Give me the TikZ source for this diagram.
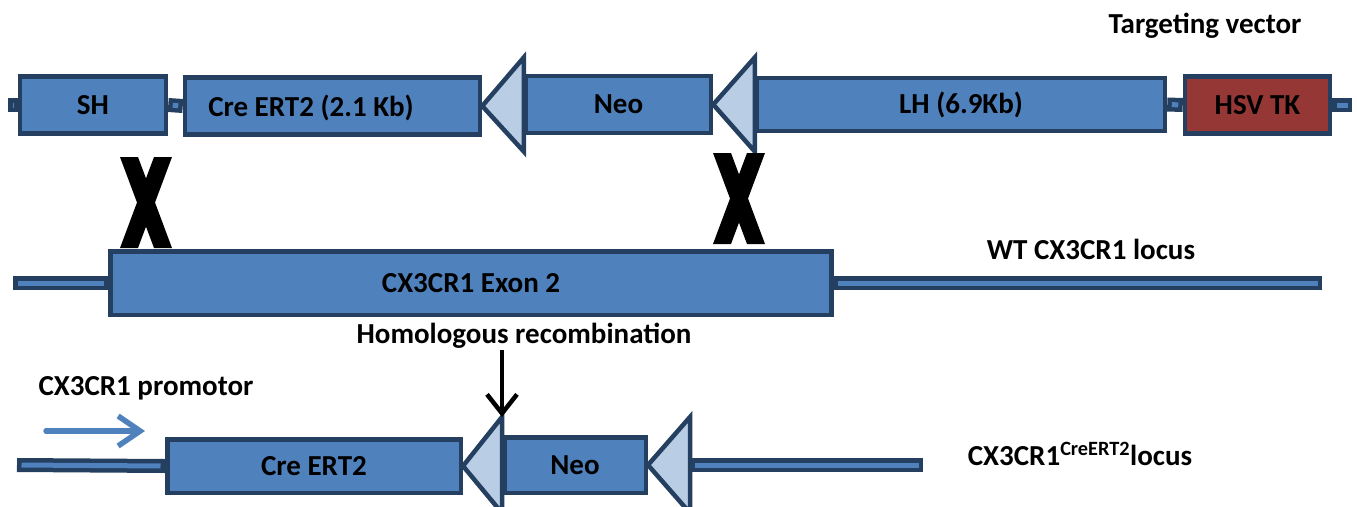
\documentclass[tikz,border=0pt]{standalone}
\usepackage{fontspec}
\setmainfont{Carlito}
\usepackage{xcolor}
\definecolor{exonBlue}{HTML}{4F81BD}
\definecolor{edgeBlue}{HTML}{243F60}
\definecolor{loxBlue}{HTML}{B9CDE5}
\definecolor{tkRed}{HTML}{953735}
\usepackage{tikz}
\usetikzlibrary{arrows.meta, calc}

\begin{document}
\begin{tikzpicture}[x=1pt, y=-1pt,
  every node/.style={font=\fontsize{29}{33}\selectfont\bfseries, inner sep=0pt, text height=18pt, text depth=0pt},
  gene/.style={draw=edgeBlue, fill=exonBlue, line width=4.5pt},
  lox/.style={draw=edgeBlue, fill=loxBlue, line width=4.5pt, line join=miter},
  dna/.style={edgeBlue, line width=14pt},
  dnacore/.style={exonBlue, line width=5pt, shorten <=4.5pt, shorten >=4.5pt}]
  \useasboundingbox (0,0) rectangle (1357,506);

  % targeting vector
  \node[gene, minimum width=146pt, minimum height=57pt] (SH) at (93,105) {SH};
  \node[gene, minimum width=295pt, minimum height=57pt] (CreTV) at (332.5,106) {};
  \node (CreTVlbl) at (311,107) {Cre ERT2 (2.1 Kb)};
  \node[gene, minimum width=185pt, minimum height=57pt] (NeoTV) at (618.5,104.5) {Neo};
  \node[gene, minimum width=408pt, minimum height=53pt] (LH) at (961,104.5) {LH (6.9Kb)};
  \node[gene, fill=tkRed, minimum width=145pt, minimum height=57pt] (TK) at (1257.5,105) {HSV TK};
  \draw[lox] (CreTV.east) -- ([yshift=47pt]NeoTV.west) -- ([yshift=-47pt]NeoTV.west) -- cycle;
  \draw[lox] (NeoTV.east) -- ([yshift=47pt]LH.west) -- ([yshift=-47pt]LH.west) -- cycle;
  \coordinate (TVa) at (8,105);
  \coordinate (TVb) at (1352,105);
  \node (TVlbl) at (1205,24) {Targeting vector};

  % crossing over
  \foreach \x/\y in {120/157, 713/153} {
    \fill (\x,\y) -- ++(18,0) -- ++(34,91) -- ++(-18,0) -- cycle;
    \fill (\x+34,\y) -- ++(18,0) -- ++(-34,91) -- ++(-18,0) -- cycle;
  }

  % wild type locus
  \node[gene, minimum width=721pt, minimum height=63.5pt] (Exon) at (471,283) {CX3CR1 Exon 2};
  \coordinate (WTa) at (13,283);
  \coordinate (WTb) at (1322,283);
  \node (WTlbl) at (1091,250) {WT CX3CR1 locus};

  % knock-in locus
  \node[gene, minimum width=293.5pt, minimum height=53.5pt] (CreKI) at (314,466) {Cre ERT2};
  \node[gene, minimum width=141.5pt, minimum height=55.5pt] (NeoKI) at (575,465) {Neo};
  \draw[lox] (CreKI.east) -- ([yshift=48pt]NeoKI.west) coordinate (loxTop) -- ([yshift=-48pt]NeoKI.west) -- cycle;
  \coordinate (loxB) at ([xshift=42pt]NeoKI.east);
  \draw[lox] (NeoKI.east) -- ([yshift=48pt]loxB) -- ([yshift=-48pt]loxB) -- cycle;
  \coordinate (KIa) at (17,465);
  \coordinate (KIb) at (923,465);
  \node (KIlbl) at (1080,456) {CX3CR1\textsuperscript{CreERT2}locus};

  \foreach \a/\b in {TVa/SH.west, SH.east/CreTV.west, LH.east/TK.west, TK.east/TVb,
                     WTa/Exon.west, Exon.east/WTb, KIa/CreKI.west, loxB/KIb} {
    \draw[dna] (\a) -- (\b);
    \draw[dnacore] (\a) -- (\b);
  }

  \node (HR) at (524,334) {Homologous recombination};
  \draw[line width=4.5pt, -{Straight Barb[length=19pt, width=30pt]}] ([yshift=-7pt]HR.south -| loxTop) -- (loxTop);

  \node (prom) at (146,386) {CX3CR1 promotor};
  \coordinate (promA) at (46,431);
  \coordinate (promB) at (145,431);
  \draw[exonBlue, line width=5.5pt, line cap=round, -{Straight Barb[length=22pt, width=30pt]}] (promA) -- (promB);
\end{tikzpicture}
\end{document}
